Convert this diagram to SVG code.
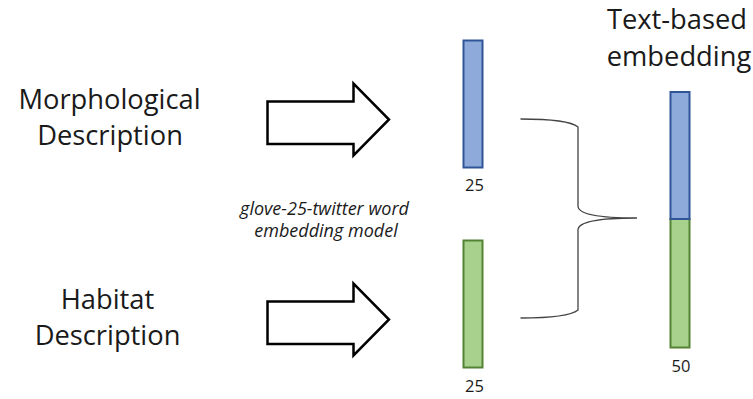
<svg xmlns="http://www.w3.org/2000/svg" width="753" height="399" viewBox="0 0 753 399">
<style>
.big{font-family:"Open Sans","Liberation Sans",sans-serif;font-size:27.3px;fill:#1a1a1a;text-anchor:middle}
.num{font-family:"Open Sans","Liberation Sans",sans-serif;font-size:16.5px;fill:#1a1a1a;text-anchor:middle}
.it{font-family:"Open Sans","Liberation Sans",sans-serif;font-size:18px;font-style:italic;fill:#1a1a1a;text-anchor:middle}
.arrow{fill:#fff;stroke:#000;stroke-width:2.5;stroke-linejoin:miter}
.blue{fill:#8eaadb;stroke:#2f5597;stroke-width:2}
.green{fill:#a9d18e;stroke:#548235;stroke-width:2}
</style>
<rect width="753" height="399" fill="#fff"/>
<g id="morph-label"><text class="big" x="109.5" y="109">Morphological</text><text class="big" x="110" y="145">Description</text></g>
<g id="habitat-label"><text class="big" x="107.5" y="309">Habitat</text><text class="big" x="107.5" y="345">Description</text></g>
<g id="model-label"><text class="it" x="324.5" y="215">glove-25-twitter word</text><text class="it" x="326" y="237">embedding model</text></g>
<g id="arrow1"><polygon class="arrow" points="267.5,101.5 353.5,101.5 353.5,83.5 389,119.5 353.5,155.5 353.5,144 267.5,144"/></g>
<g id="arrow2"><polygon class="arrow" points="267.5,301.5 353.5,301.5 353.5,283.5 389,319.5 353.5,355.5 353.5,344 267.5,344"/></g>
<g id="bar-morph"><rect class="blue" x="463.5" y="40.5" width="19" height="127"/><text class="num" x="474.5" y="191">25</text></g>
<g id="bar-habitat"><rect class="green" x="463.5" y="240.5" width="19" height="127"/><text class="num" x="474.5" y="392">25</text></g>
<g id="bar-text"><rect class="green" x="670.5" y="219" width="19" height="128.5"/><rect class="blue" x="670.5" y="92" width="19" height="127"/><text class="num" x="681" y="372">50</text></g>
<g id="title"><text class="big" x="677" y="29">Text-based</text><text class="big" x="679" y="66">embedding</text></g>
<g id="connectors"><path d="M520.5,119 C550,119 572,122 578,127 L578,206 C578,214 600,218 637,218 C600,218 578,222 578,230 L578,310 C572,315 550,318 520.5,318" fill="none" stroke="#444" stroke-width="1.3"/></g>
</svg>
